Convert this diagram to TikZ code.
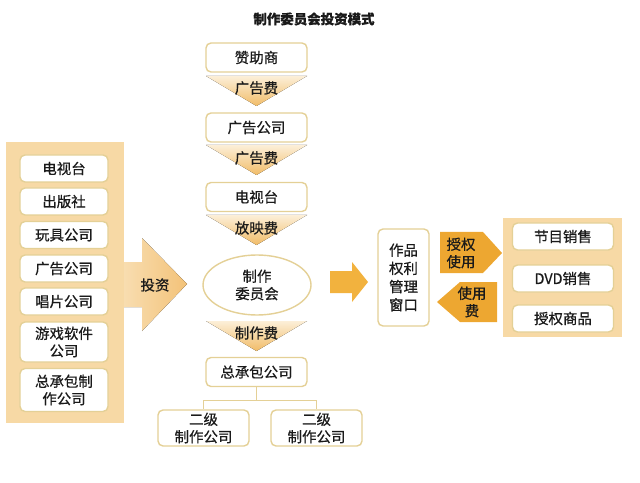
\documentclass[tikz,border=0pt]{standalone}
\usepackage{fontspec}
\setmainfont{Noto Sans CJK SC}[FakeBold=0.6]
\usetikzlibrary{shapes.geometric}
\definecolor{boxline}{HTML}{E4D096}
\definecolor{panelfill}{HTML}{F7D9A5}
\definecolor{feelight}{HTML}{FCEFD8}
\definecolor{feedark}{HTML}{F1BC68}
\definecolor{bigleft}{HTML}{F8DDB0}
\definecolor{bigright}{HTML}{F3C278}
\definecolor{smallfill}{HTML}{F2B23E}
\definecolor{rightsfill}{HTML}{EDA731}
\definecolor{txt}{HTML}{1A1A1A}
\begin{document}
\begin{tikzpicture}[x=1bp,y=-1bp,
  every node/.style={text=txt, align=center, inner sep=0pt,
    font=\fontsize{14.5}{17.5}\selectfont},
  box/.style={draw=boxline, line width=1.4bp, rounded corners=5bp, fill=white,
    minimum width=101bp, minimum height=29bp},
  sidebox/.style={box, minimum width=88bp, minimum height=27bp},
  subbox/.style={box, minimum width=91bp, minimum height=36bp},
  salebox/.style={box, minimum width=101bp, minimum height=27bp},
  fee/.style={top color=feelight, bottom color=feedark},
  panel/.style={fill=panelfill}]
\useasboundingbox (0,0) rectangle (640,483);

\node[font=\bfseries\fontsize{13.5}{16}\selectfont] (title) at (314,19) {制作委员会投资模式};

% centre column
\node[box] (sponsor) at (256.5,57.5) {赞助商};
\fill[fee] (206,76) -- (307,76) -- (256.5,106) -- cycle;
\node (fee1) at (256.5,88) {广告费};
\node[box] (adco) at (256.5,127.5) {广告公司};
\fill[fee] (206,145) -- (307,145) -- (256.5,175) -- cycle;
\node (fee2) at (256.5,158) {广告费};
\node[box] (tv) at (256.5,197) {电视台};
\fill[fee] (206,215) -- (307,215) -- (256.5,245) -- cycle;
\node (fee3) at (256.5,228) {放映费};
\node[ellipse, draw=boxline, line width=1.4bp, fill=white,
  minimum width=108bp, minimum height=60bp] (cmte) at (257,285) {制作\\委员会};
\fill[fee] (206,321) -- (307,321) -- (256.5,351) -- cycle;
\node (fee4) at (256.5,333) {制作费};
\node[box] (prime) at (256.5,372) {总承包公司};
\node[subbox] (sub1) at (203.5,428) {二级\\制作公司};
\node[subbox] (sub2) at (316.5,428) {二级\\制作公司};
\draw[boxline, line width=1bp] (prime.south) -- ++(0,13) coordinate (fork)
  -| (sub1.north);
\draw[boxline, line width=1bp] (fork) -| (sub2.north);

% investors
\fill[panel] (6,142) rectangle (124,423);
\node[sidebox] (inv1) at (64,168.5) {电视台};
\node[sidebox] (inv2) at (64,201.5) {出版社};
\node[sidebox] (inv3) at (64,235) {玩具公司};
\node[sidebox] (inv4) at (64,268.5) {广告公司};
\node[sidebox] (inv5) at (64,301.5) {唱片公司};
\node[sidebox, minimum height=40bp] (inv6) at (64,342) {游戏软件\\公司};
\node[sidebox, minimum height=43bp] (inv7) at (64,390) {总承包制\\作公司};
\fill[left color=bigleft, right color=bigright]
  (124,262) -- (142,262) -- (142,238) -- (187,284) -- (142,331)
  -- (142,307) -- (124,307) -- cycle;
\node (invest) at (155,285) {投资};

% rights window
\fill[smallfill] (330,271) -- (352,271) -- (352,262) -- (368,282)
  -- (352,302) -- (352,293) -- (330,293) -- cycle;
\node[box, minimum width=51bp, minimum height=97bp,
  font=\fontsize{14.5}{18.3}\selectfont] (window) at (403.5,277.5)
  {作品\\权利\\管理\\窗口};
\fill[rightsfill] (440,232) -- (483,232) -- (502,253) -- (483,273)
  -- (440,273) -- cycle;
\node (grant) at (461,253) {授权\\使用};
\fill[rightsfill] (497,282) -- (460,282) -- (437,302) -- (460,322)
  -- (497,322) -- cycle;
\node (usefee) at (472,302) {使用\\费};

% sales
\fill[panel] (503,218) rectangle (622,337);
\node[salebox] (sale1) at (563,236.5) {节目销售};
\node[salebox] (sale2) at (563,278.5) {DVD销售};
\node[salebox] (sale3) at (563,318.5) {授权商品};
\end{tikzpicture}
\end{document}
